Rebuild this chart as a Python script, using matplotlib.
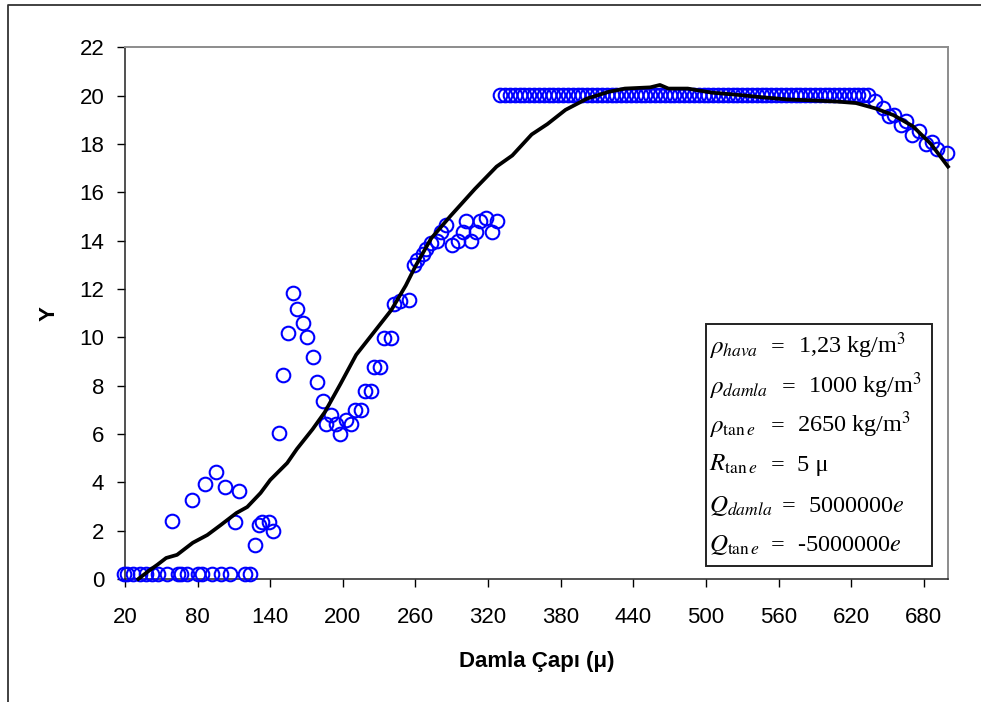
import matplotlib.pyplot as plt
from matplotlib.lines import Line2D
from matplotlib.patches import Rectangle

plt.rcParams['font.family'] = ['Liberation Sans', 'DejaVu Sans']
plt.rcParams['mathtext.fontset'] = 'stix'

# Scatter points: zero row, rising part, plateau at 20, falling tail
zero_x = [19, 22, 27, 32, 37, 42, 47, 55, 64, 66, 71, 80, 84, 92, 99, 107, 119, 123]
zero_y = [0.2, 0.2, 0.2, 0.2, 0.2, 0.2, 0.2, 0.2, 0.2, 0.2, 0.2, 0.2, 0.2, 0.2, 0.2, 0.2, 0.2, 0.2]

rise_x = [59, 75, 86, 95, 103, 111, 114.5, 127.5, 130.5, 133.5, 139, 142.5, 147.5, 150.5,
          155, 159, 162, 167, 170, 175.5, 178.5, 183.5, 186, 190.5, 194.5, 198, 203, 207,
          210, 215, 218, 223, 225.5, 231, 234, 239.5, 242, 247, 254.5, 258.5, 261.5, 266,
          269, 273, 278, 281, 285.5, 290.5, 295, 299, 302, 306, 310, 313, 318.5, 323.5, 327]
rise_y = [2.4, 3.25, 3.95, 4.42, 3.8, 2.37, 3.64, 1.39, 2.23, 2.37, 2.37, 1.97, 6.03, 8.44,
          10.17, 11.82, 11.17, 10.58, 10.02, 9.18, 8.16, 7.37, 6.4, 6.77, 6.4, 6.01, 6.59, 6.4,
          7.01, 7.01, 7.79, 7.79, 8.76, 8.76, 9.98, 9.98, 11.39, 11.5, 11.56, 12.99, 13.2, 13.45,
          13.64, 13.9, 14.0, 14.38, 14.66, 13.82, 14.0, 14.38, 14.8, 13.99, 14.38, 14.8, 14.94, 14.38, 14.8]

plateau_x = [330, 334, 338, 342, 346, 350, 354, 358, 362, 366, 370, 374, 378, 382, 386, 390,
             394, 398, 402, 406, 410, 414, 418, 422, 426, 430, 434, 438, 442, 446, 450, 454,
             458, 462, 466, 470, 474, 478, 482, 486, 490, 494, 498, 502, 506, 510, 514, 518,
             522, 526, 530, 534, 538, 542, 546, 550, 554, 558, 562, 566, 570, 574, 578, 582,
             586, 590, 594, 598, 602, 606, 610, 614, 618, 622, 626, 630, 634]
plateau_y = [20.05, 20.05, 20.05, 20.05, 20.05, 20.05, 20.05, 20.05, 20.05, 20.05, 20.05, 20.05,
             20.05, 20.05, 20.05, 20.05, 20.05, 20.05, 20.05, 20.05, 20.05, 20.05, 20.05, 20.05,
             20.05, 20.05, 20.05, 20.05, 20.05, 20.05, 20.05, 20.05, 20.05, 20.05, 20.05, 20.05,
             20.05, 20.05, 20.05, 20.05, 20.05, 20.05, 20.05, 20.05, 20.05, 20.05, 20.05, 20.05,
             20.05, 20.05, 20.05, 20.05, 20.05, 20.05, 20.05, 20.05, 20.05, 20.05, 20.05, 20.05,
             20.05, 20.05, 20.05, 20.05, 20.05, 20.05, 20.05, 20.05, 20.05, 20.05, 20.05, 20.05,
             20.05, 20.05, 20.05, 20.05, 20.05]

tail_x = [640, 646, 651, 655, 661.5, 665.5, 670.5, 676, 682, 687, 691, 699]
tail_y = [19.8, 19.5, 19.15, 19.2, 18.78, 18.96, 18.37, 18.55, 18.0, 18.09, 17.81, 17.63]

# Black curve
curve_x = [31, 40, 47, 54, 63, 76, 88, 99, 112, 121, 132, 140, 154, 162, 175, 185, 198, 211,
           227, 240, 252, 260, 273, 289, 309, 327, 340, 356, 369, 384, 402, 420, 433, 454,
           462, 469, 485, 505, 526, 547, 567, 588, 609, 624, 640, 655, 671, 686, 700]
curve_y = [0.0, 0.35, 0.6, 0.87, 1.0, 1.5, 1.82, 2.23, 2.73, 2.98, 3.56, 4.1, 4.8, 5.38, 6.2,
           6.9, 8.07, 9.28, 10.3, 11.13, 12.15, 12.95, 14.1, 15.03, 16.14, 17.07, 17.53, 18.4,
           18.83, 19.42, 19.89, 20.17, 20.3, 20.35, 20.45, 20.3, 20.3, 20.13, 20.04, 19.94,
           19.85, 19.81, 19.76, 19.7, 19.48, 19.2, 18.74, 18.0, 17.07]

x_ticks = [20, 80, 140, 200, 260, 320, 380, 440, 500, 560, 620, 680]
y_ticks = [0, 2, 4, 6, 8, 10, 12, 14, 16, 18, 20, 22]

W, H = 981, 702
fig = plt.figure(figsize=(W / 100, H / 100), dpi=100)
ax = fig.add_axes([125 / W, 1 - 579 / H, 823 / W, 531.5 / H])

pts_x = zero_x + rise_x + plateau_x + tail_x
pts_y = zero_y + rise_y + plateau_y + tail_y
ax.plot(pts_x, pts_y, linestyle='none', marker='o', ms=9.8, mfc='none',
        mec='#0000FF', mew=1.5, clip_on=False, zorder=3)
ax.plot(curve_x, curve_y, color='black', lw=2.7, clip_on=False, zorder=4)

ax.set_xlim(20, 700)
ax.set_ylim(0, 22)
ax.set_xticks(x_ticks)
ax.set_yticks(y_ticks)
ax.tick_params(axis='both', direction='out', length=6, width=1, labelsize=16, colors='black')
ax.tick_params(axis='x', pad=14)
ax.tick_params(axis='y', pad=9)
for s in ['left', 'bottom']:
    ax.spines[s].set_color('#222222')
    ax.spines[s].set_linewidth(1.1)
for s in ['top', 'right']:
    ax.spines[s].set_color('#8c8c8c')
    ax.spines[s].set_linewidth(1.4)

ax.set_xlabel('Damla Çapı (μ)', fontsize=16, fontweight='bold', labelpad=17)
ax.set_ylabel('Y', fontsize=16, fontweight='bold', labelpad=14)

# Parameter box
def fx(px):
    return px / W

def fy(py):
    return 1 - py / H

fig.patches.append(Rectangle((fx(706), fy(566)), (932 - 706) / W, (566 - 324) / H,
                             transform=fig.transFigure, facecolor='white',
                             edgecolor='#222222', lw=1.4, zorder=5))

rows = [
    (r'$\rho_{hava}$', 771, '1,23 kg/m$^3$', 798),
    (r'$\rho_{damla}$', 782, '1000 kg/m$^3$', 808),
    (r'$\rho_{\mathrm{tan}\,e}$', 771, '2650 kg/m$^3$', 797),
    (r'$R_{\mathrm{tan}\,e}$', 771, '5 μ', 797),
    (r'$Q_{damla}$', 782, '5000000$e$', 808),
    (r'$Q_{\mathrm{tan}\,e}$', 771, '-5000000$e$', 797),
]
base = [353, 393, 432, 471, 512, 551]
for (lab, xeq, val, xval), yb in zip(rows, base):
    kw = dict(va='baseline', ha='left', zorder=6, family='Liberation Serif')
    fig.text(fx(709), fy(yb), lab, fontsize=18, **kw)
    fig.text(fx(xeq), fy(yb), '=', fontsize=17.5, **kw)
    fig.text(fx(xval), fy(yb), val, fontsize=17.5, **kw)

# Outer chart border (top and left visible)
fig.add_artist(Line2D([fx(8), fx(8), fx(981)], [fy(702), fy(5), fy(5)],
                      transform=fig.transFigure, color='#333333', lw=1.3))

fig.savefig('out.png', dpi=100)
